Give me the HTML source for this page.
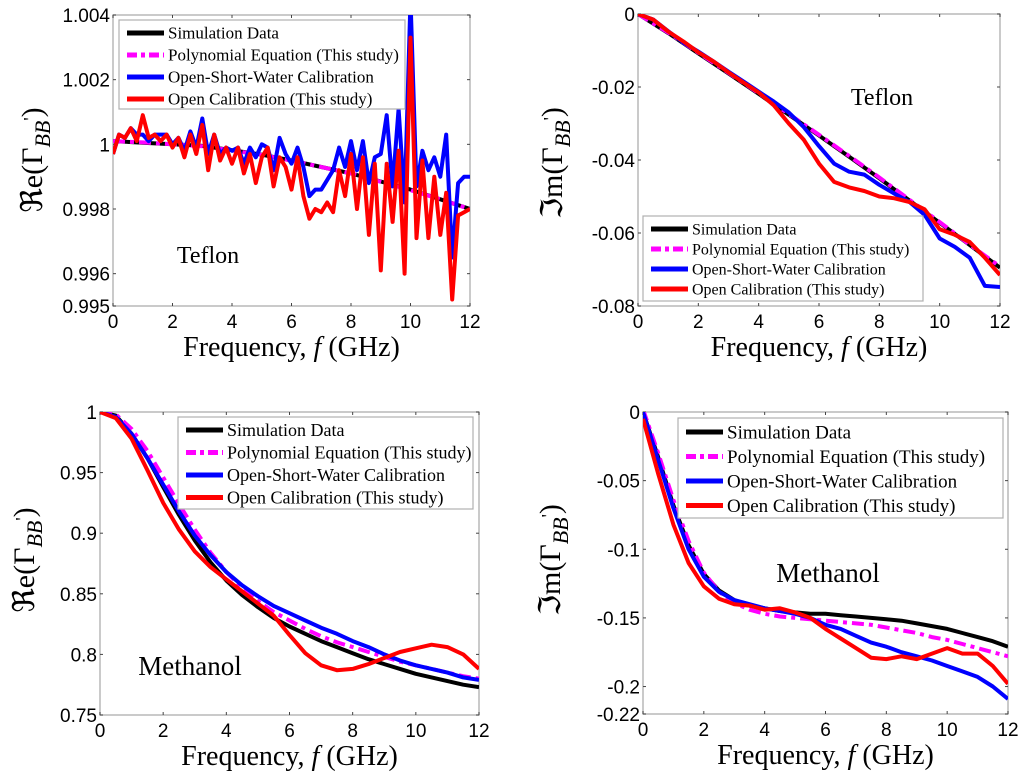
<!DOCTYPE html>
<html><head><meta charset="utf-8"><style>
html,body{margin:0;padding:0;background:#fff}
svg{display:block}
.tk{font-family:"Liberation Sans",Arial,sans-serif;font-size:19px;fill:#000}
.tt{font-family:"Liberation Serif","Times New Roman",serif;fill:#000}
</style></head><body>
<svg id="fig" width="1024" height="778" viewBox="0 0 1024 778"></svg>
<script>
// ---------- Panel 1: Re, Teflon ----------
const p1SimF=[0,1,2,3,4,5,6,7,8,9,10,11,12];
const p1Sim=[1.0001,1.00005,1.0,0.99995,0.99982,0.99968,0.9995,0.9993,0.9991,0.99885,0.9986,0.9983,0.9980];
const p1Poly=[1.0001,1.00006,1.0,0.99994,0.99981,0.99967,0.9995,0.9993,0.9991,0.99884,0.99858,0.9983,0.9980];
const p1Blue=[0.9997,1.0003,1.0002,1.0005,1.0003, 1.0003,1.0001,1.0003,1.0003,1.0003, 1.0000,1.0002,0.9998,1.0004,0.9999, 1.0008,0.9997,1.0003,0.9997,0.9999, 0.9998,0.9999,0.9994,0.9999,0.9996, 1.0000,0.9999,0.9992,1.0002,0.9997, 0.9994,0.9999,0.9993,0.9984,0.9986, 0.9986,0.9989,0.9992,0.9999,0.9993, 1.0001,0.9992,1.0001,0.9988,0.9996, 0.9997,1.0009,0.9987,1.0011,0.9982, 1.0045,0.9987,0.9998,0.9992,0.9996, 0.9990,1.0003,0.9965,0.9988,0.9990, 0.9990];
const p1Red=[0.9997,1.0003,1.0002,1.0005,1.0001, 1.0009,1.0002,1.0003,1.0001,1.0003, 0.9999,1.0002,0.9996,1.0003,0.9997, 1.0006,0.9992,1.0003,0.9995,0.9999, 0.9994,0.9999,0.9991,0.9997,0.9988, 0.9996,0.9999,0.9987,0.9996,0.9993, 0.9986,0.9996,0.9984,0.9977,0.9980, 0.9979,0.9982,0.9979,0.9992,0.9984, 0.9997,0.9980,0.9996,0.9972,0.9994, 0.9961,0.9994,0.9976,0.9998,0.9960, 1.0033,0.9971,0.9995,0.9971,0.9990, 0.9972,0.9985,0.9952,0.9978,0.9979, 0.9980];
const p1YTicks=[0.995,0.996,0.998,1,1.002,1.004];
const p1YLabels=["0.995","0.996","0.998","1","1.002","1.004"];
// ---------- Panel 2: Im, Teflon ----------
const p2Sim=[0,-0.0052,-0.0108,-0.0163,-0.0219,-0.0276,-0.0333,-0.0391,-0.0450,-0.0511,-0.0572,-0.0633,-0.0695];
const p2Poly=[0,-0.0051,-0.0106,-0.0161,-0.0217,-0.0274,-0.0331,-0.0389,-0.0448,-0.0509,-0.0570,-0.0632,-0.0692];
const p2Blue=[0,-0.0015,-0.0047,-0.0078,-0.0103,-0.0130,-0.0158,-0.0185,-0.0213,-0.0240,-0.0270,-0.0310,-0.0362,-0.0410,-0.0432,-0.0440,-0.0468,-0.0492,-0.0515,-0.0550,-0.0615,-0.0638,-0.0668,-0.0745,-0.0748];
const p2Red=[0,-0.0015,-0.0048,-0.0075,-0.0105,-0.0130,-0.0160,-0.0188,-0.0215,-0.0250,-0.0300,-0.0345,-0.0410,-0.0460,-0.0475,-0.0485,-0.0500,-0.0505,-0.0515,-0.0535,-0.0590,-0.0605,-0.0625,-0.0668,-0.0715];
const p2YTicks=[0,-0.02,-0.04,-0.06,-0.08];
const p2YLabels=["0","-0.02","-0.04","-0.06","-0.08"];
// ---------- Panel 3: Re, Methanol ----------
const p3Sim=[1,0.997,0.982,0.962,0.938,0.915,0.894,0.876,0.861,0.849,0.839,0.830,0.823,0.817,0.811,0.806,0.801,0.796,0.792,0.788,0.784,0.781,0.778,0.775,0.773];
const p3Poly=[1,0.998,0.986,0.968,0.946,0.924,0.903,0.884,0.868,0.855,0.844,0.835,0.828,0.821,0.815,0.810,0.806,0.802,0.798,0.794,0.791,0.788,0.785,0.782,0.780];
const p3Blue=[1,0.996,0.982,0.962,0.940,0.918,0.898,0.882,0.868,0.857,0.848,0.840,0.834,0.828,0.822,0.817,0.811,0.806,0.800,0.795,0.791,0.788,0.785,0.781,0.779];
const p3Red=[1,0.995,0.978,0.952,0.925,0.903,0.885,0.872,0.862,0.852,0.842,0.832,0.816,0.801,0.791,0.787,0.788,0.792,0.797,0.802,0.805,0.808,0.806,0.800,0.788];
const p3YTicks=[0.75,0.8,0.85,0.9,0.95,1];
const p3YLabels=["0.75","0.8","0.85","0.9","0.95","1"];
// ---------- Panel 4: Im, Methanol ----------
const p4Sim=[0,-0.033,-0.068,-0.097,-0.118,-0.130,-0.137,-0.141,-0.143,-0.145,-0.146,-0.147,-0.147,-0.148,-0.149,-0.150,-0.151,-0.152,-0.154,-0.156,-0.158,-0.161,-0.164,-0.167,-0.171];
const p4Poly=[0.002,-0.030,-0.064,-0.094,-0.117,-0.131,-0.139,-0.144,-0.147,-0.149,-0.150,-0.151,-0.152,-0.153,-0.154,-0.155,-0.157,-0.159,-0.161,-0.164,-0.166,-0.169,-0.172,-0.175,-0.178];
const p4Blue=[0,-0.035,-0.070,-0.100,-0.120,-0.131,-0.137,-0.140,-0.143,-0.145,-0.147,-0.150,-0.155,-0.158,-0.163,-0.168,-0.171,-0.175,-0.178,-0.181,-0.185,-0.189,-0.193,-0.200,-0.209];
const p4Red=[-0.005,-0.045,-0.082,-0.110,-0.127,-0.136,-0.140,-0.141,-0.144,-0.143,-0.146,-0.150,-0.158,-0.165,-0.172,-0.179,-0.180,-0.178,-0.180,-0.176,-0.172,-0.176,-0.176,-0.185,-0.198];
const p4YTicks=[0,-0.05,-0.1,-0.15,-0.2,-0.22];
const p4YLabels=["0","-0.05","-0.1","-0.15","-0.2","-0.22"];
const xTicks=[0,2,4,6,8,10,12];
const legendLabels=["Simulation Data","Polynomial Equation (This study)","Open-Short-Water Calibration","Open Calibration (This study)"];

const NS="http://www.w3.org/2000/svg";
const svg=document.getElementById('fig');
function mk(tag,attrs,parent){const e=document.createElementNS(NS,tag);for(const k in attrs)e.setAttribute(k,attrs[k]);(parent||svg).appendChild(e);return e;}
function stepF(n,step){const a=[];for(let i=0;i<n;i++)a.push(i*step);return a;}

const styles=[
 {stroke:"#000",dash:null},
 {stroke:"#ff00ff",dash:"12,5,4,5"},
 {stroke:"#0000ff",dash:null},
 {stroke:"#ff0000",dash:null}];

function panel(cfg,idx){
  const g=mk('g',{});
  
  
  const X=v=>cfg.x0+(v-0)/12*(cfg.x1-cfg.x0);
  const Y=v=>cfg.yt+(cfg.ymax-v)/(cfg.ymax-cfg.ymin)*(cfg.yb-cfg.yt);
  const cp=mk('clipPath',{id:'cp'+idx},g);
  mk('rect',{x:cfg.x0,y:cfg.yt,width:cfg.x1-cfg.x0,height:cfg.yb-cfg.yt},cp);
  const box=mk('rect',{x:cfg.x0,y:cfg.yt,width:cfg.x1-cfg.x0,height:cfg.yb-cfg.yt,fill:'none',stroke:'#b8b8b8','stroke-width':1.5},g);
  
  
  xTicks.forEach(t=>{
    const x=X(t);
    mk('line',{x1:x,x2:x,y1:cfg.yb,y2:cfg.yb-3,stroke:'#444','stroke-width':1},g);
    mk('line',{x1:x,x2:x,y1:cfg.yt,y2:cfg.yt+3,stroke:'#444','stroke-width':1},g);
    const t1=mk('text',{x:x,y:cfg.yb+22,'text-anchor':'middle',class:'tk'},g);
    t1.textContent=String(t);
    
    
  });
  cfg.yticks.forEach((t,i)=>{
    const y=Y(t);
    mk('line',{x1:cfg.x0,x2:cfg.x0+3,y1:y,y2:y,stroke:'#444','stroke-width':1},g);
    mk('line',{x1:cfg.x1,x2:cfg.x1-3,y1:y,y2:y,stroke:'#444','stroke-width':1},g);
    const t1=mk('text',{x:cfg.x0-3,y:y+7,'text-anchor':'end',class:'tk'},g);
    t1.textContent=cfg.ylabels[i];
    
    
  });
  const names=['simulation-line','polynomial-line','osw-calibration-line','open-calibration-line'];
  cfg.series.forEach((s,i)=>{
    const d=s.v.map((v,j)=>(j?'L':'M')+X(s.f[j]).toFixed(1)+','+Y(v).toFixed(1)).join(' ');
    const a={d:d,fill:'none',stroke:styles[i].stroke,'stroke-width':4,'stroke-linejoin':'round','clip-path':'url(#cp'+idx+')'};
    if(styles[i].dash)a['stroke-dasharray']=styles[i].dash;
    const p=mk('path',a,g);
    
    
  });
  const L=cfg.leg;
  const lg=mk('g',{},g);
  
  
  mk('rect',{x:L.x,y:L.y,width:L.w,height:L.h,fill:'#fff',stroke:'#b0b0b0','stroke-width':1.2},lg);
  legendLabels.forEach((lab,i)=>{
    const cy=L.y+L.first+i*L.dy;
    const a={x1:L.x+8,x2:L.x+45,y1:cy,y2:cy,stroke:styles[i].stroke,'stroke-width':5};
    if(styles[i].dash)a['stroke-dasharray']='10,4,4,4';
    mk('line',a,lg);
    const t=mk('text',{x:L.x+49,y:cy+L.fs*0.33,class:'tt','font-size':L.fs},lg);
    t.textContent=lab;
    
    
  });
  const an=mk('text',{x:cfg.ann.x,y:cfg.ann.y,'text-anchor':'middle',class:'tt','font-size':cfg.ann.fs},g);
  an.textContent=cfg.ann.t;
  
  
  const xt=mk('text',{x:(cfg.x0+cfg.x1)/2,y:cfg.yb+50,'text-anchor':'middle',class:'tt','font-size':28},g);
  xt.innerHTML='Frequency, <tspan font-style="italic">f</tspan>  (GHz)';
  
  
  const yt=mk('text',{x:0,y:0,'text-anchor':'middle',class:'tt','font-size':30,transform:'translate('+cfg.ytx+','+cfg.yty+') rotate(-90)'},g);
  yt.innerHTML=cfg.ytitle+'(Γ<tspan font-style="italic" font-size="22" dy="8">BB</tspan><tspan font-size="18" dy="-14">\'</tspan><tspan dy="6">)</tspan>';
  
  
}

const f61=stepF(61,0.2), f25=stepF(25,0.5);
panel({name:'panel-re-teflon',x0:113,x1:470,yt:15,yb:306,ymin:0.995,ymax:1.004,yticks:p1YTicks,ylabels:p1YLabels,
  series:[{f:p1SimF,v:p1Sim},{f:p1SimF,v:p1Poly},{f:f61,v:p1Blue},{f:f61,v:p1Red}],
  leg:{x:119,y:20,w:286,h:89,first:13,dy:22,fs:17},ann:{x:208,y:263,fs:24,t:'Teflon'},ytitle:'ℜe',ytx:42,yty:160},1);
panel({name:'panel-im-teflon',x0:638,x1:1000,yt:14,yb:306,ymin:-0.08,ymax:0,yticks:p2YTicks,ylabels:p2YLabels,
  series:[{f:p1SimF,v:p2Sim},{f:p1SimF,v:p2Poly},{f:f25,v:p2Blue},{f:f25,v:p2Red}],
  leg:{x:643,y:216,w:280,h:85,first:13,dy:20,fs:16},ann:{x:882,y:105,fs:24,t:'Teflon'},ytitle:'ℑm',ytx:562,yty:163},2);
panel({name:'panel-re-methanol',x0:100,x1:479,yt:412,yb:715,ymin:0.75,ymax:1,yticks:p3YTicks,ylabels:p3YLabels,
  series:[{f:f25,v:p3Sim},{f:f25,v:p3Poly},{f:f25,v:p3Blue},{f:f25,v:p3Red}],
  leg:{x:178,y:417,w:295,h:92,first:13,dy:22.5,fs:18},ann:{x:190,y:675,fs:27,t:'Methanol'},ytitle:'ℜe',ytx:34,yty:560},3);
panel({name:'panel-im-methanol',x0:643,x1:1008,yt:412,yb:714,ymin:-0.22,ymax:0,yticks:p4YTicks,ylabels:p4YLabels,
  series:[{f:f25,v:p4Sim},{f:f25,v:p4Poly},{f:f25,v:p4Blue},{f:f25,v:p4Red}],
  leg:{x:678,y:418,w:325,h:100,first:14,dy:24.5,fs:19},ann:{x:828,y:582,fs:27,t:'Methanol'},ytitle:'ℑm',ytx:560,yty:560},4);
</script>
</body></html>
